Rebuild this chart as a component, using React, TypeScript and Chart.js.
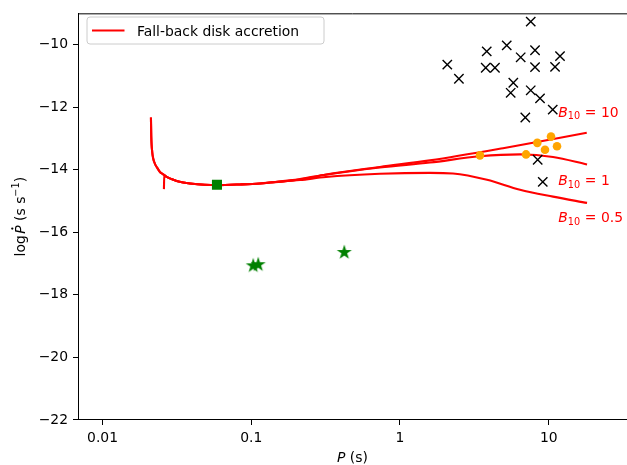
import React, { useEffect, useRef } from 'react';
import { Chart, registerables } from 'chart.js';

Chart.register(...registerables);

// ---------------- data ----------------
const xTicks = [0.01, 0.1, 1, 10];
const yTicks = [-22, -20, -18, -16, -14, -12, -10];
const X_MIN = 0.00684;
const X_MAX = 33.6;
const Y_MIN = -22;
const Y_MAX = -9.0;

// shared low-period part of the fall-back disk tracks
const startP = [0.02116, 0.02126, 0.02159, 0.02193, 0.02251, 0.02333, 0.02432, 0.02559];
const startY = [-12.33, -12.91, -13.44, -13.65, -13.81, -13.94, -14.07, -14.15];
const midP = [0.02698, 0.02916, 0.0315, 0.03489, 0.03872, 0.05852, 0.08395, 0.1144, 0.1336];
const midY = [-14.23, -14.3, -14.36, -14.41, -14.44, -14.49, -14.47, -14.44, -14.41];

const b10TailP = [0.2126, 0.3178, 0.7336, 1.591, 4.928, 18.02];
const b10TailY = [-14.3, -14.15, -13.91, -13.7, -13.31, -12.82];
const b1TailP = [0.2126, 0.3178, 0.7336, 1.591, 3.451, 6.412, 10.69, 18.1];
const b1TailY = [-14.31, -14.16, -13.93, -13.77, -13.57, -13.51, -13.59, -13.83];
const b05StartP = [0.02587, 0.026];
const b05StartY = [-14.62, -14.17];
const b05TailP = [0.2126, 0.3178, 0.7336, 1.591, 2.272, 3.847, 6.412, 10.69, 18.1];
const b05TailY = [-14.33, -14.23, -14.13, -14.1, -14.12, -14.32, -14.64, -14.86, -15.06];

const crossP = [7.57, 3.83, 5.22, 8.09, 11.91, 6.48, 2.08, 3.77, 4.35, 8.09, 11.03, 2.49, 5.78, 5.55, 7.57, 8.74, 10.64, 6.96, 8.43, 9.12];
const crossY = [-9.265, -10.215, -10.025, -10.18, -10.37, -10.405, -10.64, -10.74, -10.74, -10.72, -10.71, -11.09, -11.22, -11.54, -11.46, -11.72, -12.08, -12.33, -13.68, -14.39];

const orangeP = [3.45, 7.04, 8.38, 9.44, 10.36, 11.37];
const orangeY = [-13.54, -13.51, -13.14, -13.36, -12.94, -13.25];

const squareP = [0.0588];
const squareY = [-14.48];

const starP = [0.1031, 0.1114, 0.422];
const starY = [-17.055, -17.02, -16.63];

const bLabelValues = ['10', '1', '0.5'];
const bLabelP = [11.6, 11.6, 11.6];
const bLabelY = [-12.3, -14.48, -15.67];

const legendLabel = 'Fall-back disk accretion';

// ---------------- helpers ----------------
const FAMILY = '"DejaVu Sans"';
const FS = 13.9;
const nf = (s = FS) => `${s}px ${FAMILY}`;
const itf = (s = FS) => `italic ${s}px ${FAMILY}`;

const pts = (p: number[], y: number[]) => p.map((v, i) => ({ x: v, y: y[i] }));

type Piece = { t: string; font: string; dy?: number; gap?: number; dot?: boolean };

function piecesWidth(ctx: CanvasRenderingContext2D, pieces: Piece[]) {
  let w = 0;
  for (const p of pieces) {
    ctx.font = p.font;
    w += (p.gap || 0) + ctx.measureText(p.t).width;
  }
  return w;
}

function drawPieces(ctx: CanvasRenderingContext2D, pieces: Piece[], x: number, y: number) {
  ctx.textAlign = 'left';
  ctx.textBaseline = 'alphabetic';
  let cx = x;
  for (const p of pieces) {
    cx += p.gap || 0;
    ctx.font = p.font;
    ctx.fillText(p.t, cx, y + (p.dy || 0));
    const w = ctx.measureText(p.t).width;
    if (p.dot) {
      ctx.beginPath();
      ctx.arc(cx + w * 0.62, y - FS * 0.729 - 2.6, 1.15, 0, Math.PI * 2);
      ctx.fill();
    }
    cx += w;
  }
}

function makeStar(R: number, color: string) {
  const size = Math.ceil(2 * R + 2);
  const c = document.createElement('canvas');
  c.width = size;
  c.height = size;
  const g = c.getContext('2d')!;
  const cx = size / 2;
  const cy = size / 2 + R * 0.05;
  const r = R * 0.381966;
  g.fillStyle = color;
  g.beginPath();
  for (let i = 0; i < 10; i++) {
    const a = -Math.PI / 2 + (i * Math.PI) / 5;
    const rad = i % 2 === 0 ? R : r;
    const px = cx + rad * Math.cos(a);
    const py = cy + rad * Math.sin(a);
    if (i === 0) g.moveTo(px, py);
    else g.lineTo(px, py);
  }
  g.closePath();
  g.fill();
  return c;
}

const decorPlugin = {
  id: 'decor',
  afterDraw(chart: any) {
    const ctx: CanvasRenderingContext2D = chart.ctx;
    const area = chart.chartArea;
    const xs = chart.scales.x;
    const ys = chart.scales.y;
    ctx.save();
    // top spine
    ctx.strokeStyle = '#000';
    ctx.lineWidth = 1;
    ctx.beginPath();
    ctx.moveTo(area.left, area.top + 0.5);
    ctx.lineTo(area.right, area.top + 0.5);
    ctx.stroke();

    // B10 labels
    ctx.fillStyle = '#ff0000';
    bLabelValues.forEach((val, i) => {
      const px = xs.getPixelForValue(bLabelP[i]);
      const py = ys.getPixelForValue(bLabelY[i]);
      drawPieces(
        ctx,
        [
          { t: 'B', font: itf() },
          { t: '10', font: nf(9.7), dy: 2.8 },
          { t: '=', font: nf(), gap: 4.6 },
          { t: val, font: nf(), gap: 4.6 },
        ],
        px,
        py
      );
    });

    // legend
    const lx = 87, ly = 17, lw = 237, lh = 27, rr = 3;
    ctx.beginPath();
    ctx.moveTo(lx + rr, ly);
    ctx.arcTo(lx + lw, ly, lx + lw, ly + lh, rr);
    ctx.arcTo(lx + lw, ly + lh, lx, ly + lh, rr);
    ctx.arcTo(lx, ly + lh, lx, ly, rr);
    ctx.arcTo(lx, ly, lx + lw, ly, rr);
    ctx.closePath();
    ctx.fillStyle = 'rgba(255,255,255,0.8)';
    ctx.fill();
    ctx.strokeStyle = '#cccccc';
    ctx.lineWidth = 1;
    ctx.stroke();
    ctx.strokeStyle = '#ff0000';
    ctx.lineWidth = 2.1;
    ctx.beginPath();
    ctx.moveTo(92, 30.5);
    ctx.lineTo(124.5, 30.5);
    ctx.stroke();
    ctx.fillStyle = '#000';
    ctx.font = nf();
    ctx.textAlign = 'left';
    ctx.textBaseline = 'alphabetic';
    ctx.fillText(legendLabel, 137, 35.5);

    // x title
    const xPieces: Piece[] = [
      { t: 'P', font: itf() },
      { t: ' (s)', font: nf() },
    ];
    const xw = piecesWidth(ctx, xPieces);
    ctx.fillStyle = '#000';
    drawPieces(ctx, xPieces, (area.left + area.right) / 2 - xw / 2, 461.5);

    // y title
    const yPieces: Piece[] = [
      { t: 'log', font: nf() },
      { t: 'P', font: itf(), dot: true, gap: 1.5 },
      { t: ' (s s', font: nf() },
      { t: '\u22121', font: nf(9.7), dy: -5.6 },
      { t: ')', font: nf() },
    ];
    const yw = piecesWidth(ctx, yPieces);
    ctx.translate(25, (area.top + area.bottom) / 2);
    ctx.rotate(-Math.PI / 2);
    drawPieces(ctx, yPieces, -yw / 2, 0);
    ctx.restore();
  },
};

export default function App() {
  const ref = useRef<HTMLCanvasElement | null>(null);

  useEffect(() => {
    if (!ref.current) return;
    const star = makeStar(7.9, '#008000');
    const lineCommon = {
      type: 'scatter' as const,
      showLine: true,
      pointRadius: 0,
      borderColor: '#ff0000',
      backgroundColor: '#ff0000',
      borderWidth: 2.1,
      cubicInterpolationMode: 'monotone' as const,
      order: 2,
    };
    const chart = new Chart(ref.current, {
      type: 'scatter',
      data: {
        datasets: [
          { ...lineCommon, label: 'B10=10', data: pts([...startP, ...midP, ...b10TailP], [...startY, ...midY, ...b10TailY]) },
          { ...lineCommon, label: 'B10=1', data: pts([...startP, ...midP, ...b1TailP], [...startY, ...midY, ...b1TailY]) },
          { ...lineCommon, label: 'B10=0.5', data: pts([...b05StartP, ...midP, ...b05TailP], [...b05StartY, ...midY, ...b05TailY]) },
          {
            label: 'crosses',
            data: pts(crossP, crossY),
            pointStyle: 'crossRot',
            pointRadius: 6.6,
            borderColor: '#000',
            backgroundColor: 'rgba(0,0,0,0)',
            borderWidth: 1.4,
            order: 1,
          },
          {
            label: 'orange',
            data: pts(orangeP, orangeY),
            pointStyle: 'circle',
            pointRadius: 4.3,
            backgroundColor: '#ffa500',
            borderColor: '#ffa500',
            borderWidth: 0,
            order: 1,
          },
          {
            label: 'square',
            data: pts(squareP, squareY),
            pointStyle: 'rect',
            pointRadius: 7.1,
            backgroundColor: '#008000',
            borderColor: '#008000',
            borderWidth: 0,
            order: 1,
          },
          {
            label: 'stars',
            data: pts(starP, starY),
            pointStyle: star as any,
            pointRadius: 7,
            backgroundColor: '#008000',
            borderColor: '#008000',
            borderWidth: 0,
            order: 1,
          },
        ] as any,
      },
      options: {
        responsive: false,
        animation: false,
        events: [],
        layout: { autoPadding: false, padding: { left: 0, right: 0, top: 10, bottom: 0 } },
        plugins: { legend: { display: false }, tooltip: { enabled: false } },
        scales: {
          x: {
            type: 'logarithmic',
            min: X_MIN,
            max: X_MAX,
            afterBuildTicks: (s: any) => {
              s.ticks = xTicks.map((v) => ({ value: v }));
            },
            afterFit: (s: any) => {
              s.height = 45;
            },
            ticks: {
              callback: (v: any) => String(v),
              color: '#000',
              font: { family: 'DejaVu Sans', size: FS },
              padding: 5,
              maxRotation: 0,
              autoSkip: false,
            },
            grid: { display: true, drawOnChartArea: false, drawTicks: true, tickLength: 5, tickColor: '#000', tickWidth: 1 },
            border: { display: true, color: '#000', width: 1 },
          },
          y: {
            type: 'linear',
            min: Y_MIN,
            max: Y_MAX,
            afterBuildTicks: (s: any) => {
              s.ticks = yTicks.map((v) => ({ value: v }));
            },
            afterFit: (s: any) => {
              s.width = 78;
            },
            ticks: {
              callback: (v: any) => String(v).replace('-', '\u2212'),
              color: '#000',
              font: { family: 'DejaVu Sans', size: FS },
              padding: 5,
              autoSkip: false,
            },
            grid: { display: true, drawOnChartArea: false, drawTicks: true, tickLength: 5, tickColor: '#000', tickWidth: 1 },
            border: { display: true, color: '#000', width: 1 },
          },
        },
      } as any,
      plugins: [decorPlugin],
    });
    return () => chart.destroy();
  }, []);

  return (
    <div style={{ position: 'fixed', left: 0, top: 0, width: 627, height: 465, overflow: 'hidden', background: '#fff' }}>
      <canvas ref={ref} width={627} height={465} style={{ display: 'block' }} />
    </div>
  );
}
